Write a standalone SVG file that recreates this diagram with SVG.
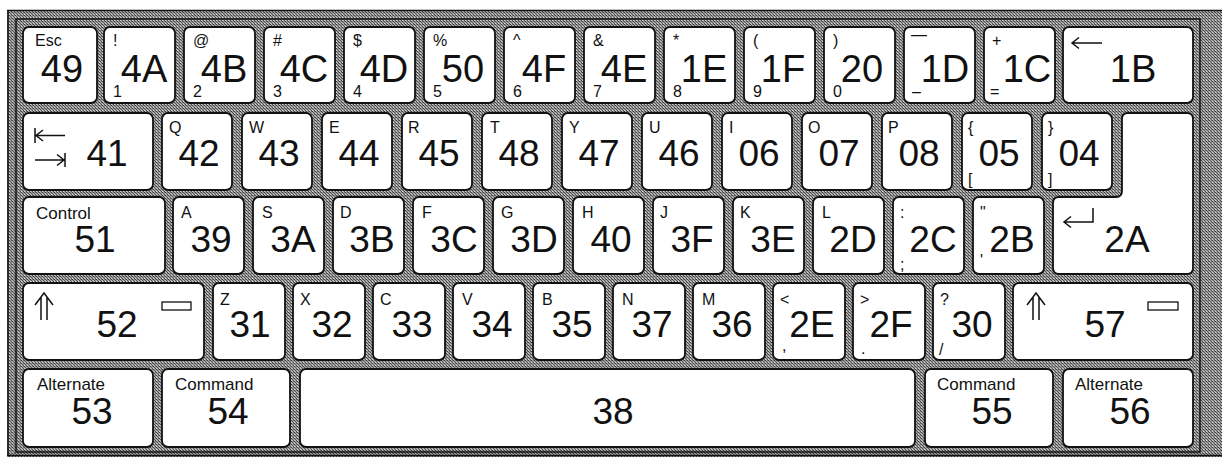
<svg xmlns="http://www.w3.org/2000/svg" width="1222" height="457" viewBox="0 0 1222 457">
<defs>
<pattern id="g" width="3" height="3" patternUnits="userSpaceOnUse">
<rect width="3" height="3" fill="#a6a6a6"/>
<rect x="0" y="0" width="1" height="1" fill="#3a3a3a"/>
<rect x="1" y="1" width="1" height="1" fill="#555"/>
<rect x="2" y="2" width="1" height="1" fill="#4a4a4a"/>
<rect x="2" y="0" width="1" height="1" fill="#7a7a7a"/>
<rect x="0" y="2" width="1" height="1" fill="#d0d0d0"/>
</pattern>
<style>
.k{fill:#fff;stroke:#111;stroke-width:1.8}
.ln{fill:none;stroke:#111;stroke-width:1.5}
text{font-family:"Liberation Sans",Arial,sans-serif;fill:#111}
.b{font-size:37px;text-anchor:middle}
.b1{font-size:38px;text-anchor:middle}
.s{font-size:16px}
.m{font-size:17px}
</style>
</defs>
<g id="frame">
<rect x="7" y="10" width="1215" height="447" fill="url(#g)"/>
<path d="M7,10.5 H1222 M8,10 V456 M7,455.5 H1222" class="ln" stroke-width="2"/>
<rect x="16" y="19" width="1184" height="433" class="ln"/>
</g>
<g id="connectors"></g>
<g id="row1">
<g id="k49"><rect class="k" x="23" y="27" width="74" height="76" rx="6"/><text class="s" x="35" y="46">Esc</text><text class="b1" x="62" y="82">49</text></g>
<g id="k4A"><rect class="k" x="104" y="27" width="71" height="76" rx="6"/><text class="s" x="113" y="46">!</text><text class="s" x="113" y="97">1</text><text class="b1" x="144" y="82">4A</text></g>
<g id="k4B"><rect class="k" x="184" y="27" width="71" height="76" rx="6"/><text class="s" x="193" y="46">@</text><text class="s" x="193" y="97">2</text><text class="b1" x="224" y="82">4B</text></g>
<g id="k4C"><rect class="k" x="264" y="27" width="71" height="76" rx="6"/><text class="s" x="273" y="46">#</text><text class="s" x="273" y="97">3</text><text class="b1" x="304" y="82">4C</text></g>
<g id="k4D"><rect class="k" x="344" y="27" width="71" height="76" rx="6"/><text class="s" x="353" y="46">$</text><text class="s" x="353" y="97">4</text><text class="b1" x="384" y="82">4D</text></g>
<g id="k50"><rect class="k" x="424" y="27" width="71" height="76" rx="6"/><text class="s" x="433" y="46">%</text><text class="s" x="433" y="97">5</text><text class="b1" x="463" y="82">50</text></g>
<g id="k4F"><rect class="k" x="504" y="27" width="71" height="76" rx="6"/><text class="s" x="513" y="46">^</text><text class="s" x="513" y="97">6</text><text class="b1" x="544" y="82">4F</text></g>
<g id="k4E"><rect class="k" x="584" y="27" width="71" height="76" rx="6"/><text class="s" x="593" y="46">&amp;</text><text class="s" x="593" y="97">7</text><text class="b1" x="624" y="82">4E</text></g>
<g id="k1E"><rect class="k" x="664" y="27" width="71" height="76" rx="6"/><text class="s" x="673" y="46">*</text><text class="s" x="673" y="97">8</text><text class="b1" x="704" y="82">1E</text></g>
<g id="k1F"><rect class="k" x="744" y="27" width="71" height="76" rx="6"/><text class="s" x="753" y="46">(</text><text class="s" x="753" y="97">9</text><text class="b1" x="783" y="82">1F</text></g>
<g id="k20"><rect class="k" x="824" y="27" width="71" height="76" rx="6"/><text class="s" x="833" y="46">)</text><text class="s" x="833" y="97">0</text><text class="b1" x="862" y="82">20</text></g>
<g id="k1D"><rect class="k" x="904" y="27" width="71" height="76" rx="6"/><text class="s" x="911" y="40">—</text><text class="s" x="912" y="97">–</text><text class="b1" x="945" y="82">1D</text></g>
<g id="k1C"><rect class="k" x="984" y="27" width="71" height="76" rx="6"/><text class="s" x="992" y="46">+</text><text class="s" x="990" y="97">=</text><text class="b1" x="1027" y="82">1C</text></g>
<g id="k1B"><rect class="k" x="1063" y="27" width="130" height="76" rx="6"/><path class="ln" d="M1072,43 H1102 M1079,37.5 L1072,43 L1079,48.5"/><text class="b1" x="1133" y="82">1B</text></g>
</g>
<g id="row2">
<g id="k41"><rect class="k" x="23" y="113" width="130" height="77" rx="6"/><path class="ln" d="M35,128 V143 M36,135.5 H65 M43,130 L36,135.5 L43,141 M35,160 H64 M57,154.5 L64,160 L57,165.5 M65,153 V167"/><text class="b" x="107" y="166">41</text></g>
<g id="k42"><rect class="k" x="162" y="113" width="70" height="77" rx="6"/><text class="s" x="169" y="133">Q</text><text class="b" x="199" y="166">42</text></g>
<g id="k43"><rect class="k" x="242" y="113" width="70" height="77" rx="6"/><text class="s" x="249" y="133">W</text><text class="b" x="279" y="166">43</text></g>
<g id="k44"><rect class="k" x="322" y="113" width="70" height="77" rx="6"/><text class="s" x="329" y="133">E</text><text class="b" x="359" y="166">44</text></g>
<g id="k45"><rect class="k" x="402" y="113" width="70" height="77" rx="6"/><text class="s" x="408" y="133">R</text><text class="b" x="439" y="166">45</text></g>
<g id="k48"><rect class="k" x="482" y="113" width="70" height="77" rx="6"/><text class="s" x="490" y="133">T</text><text class="b" x="519" y="166">48</text></g>
<g id="k47"><rect class="k" x="562" y="113" width="70" height="77" rx="6"/><text class="s" x="569" y="133">Y</text><text class="b" x="599" y="166">47</text></g>
<g id="k46"><rect class="k" x="642" y="113" width="70" height="77" rx="6"/><text class="s" x="649" y="133">U</text><text class="b" x="679" y="166">46</text></g>
<g id="k06"><rect class="k" x="722" y="113" width="70" height="77" rx="6"/><text class="s" x="729" y="133">I</text><text class="b" x="759" y="166">06</text></g>
<g id="k07"><rect class="k" x="802" y="113" width="70" height="77" rx="6"/><text class="s" x="808" y="133">O</text><text class="b" x="839" y="166">07</text></g>
<g id="k08"><rect class="k" x="882" y="113" width="70" height="77" rx="6"/><text class="s" x="888" y="133">P</text><text class="b" x="919" y="166">08</text></g>
<g id="k05"><rect class="k" x="962" y="113" width="70" height="77" rx="6"/><text class="s" x="968" y="133">{</text><text class="s" x="968" y="185">[</text><text class="b" x="999" y="166">05</text></g>
<g id="k04"><rect class="k" x="1042" y="113" width="70" height="77" rx="6"/><text class="s" x="1048" y="133">}</text><text class="s" x="1048" y="185">]</text><text class="b" x="1079" y="166">04</text></g>
</g>
<g id="row3">
<g id="k51"><rect class="k" x="23" y="197" width="142" height="77" rx="6"/><text class="m" x="36" y="219">Control</text><text class="b" x="95" y="252">51</text></g>
<g id="k39"><rect class="k" x="173" y="197" width="71" height="77" rx="6"/><text class="s" x="181" y="218">A</text><text class="b" x="211" y="252">39</text></g>
<g id="k3A"><rect class="k" x="253" y="197" width="71" height="77" rx="6"/><text class="s" x="262" y="218">S</text><text class="b" x="293" y="252">3A</text></g>
<g id="k3B"><rect class="k" x="333" y="197" width="71" height="77" rx="6"/><text class="s" x="340" y="218">D</text><text class="b" x="372" y="252">3B</text></g>
<g id="k3C"><rect class="k" x="413" y="197" width="71" height="77" rx="6"/><text class="s" x="422" y="218">F</text><text class="b" x="454" y="252">3C</text></g>
<g id="k3D"><rect class="k" x="493" y="197" width="71" height="77" rx="6"/><text class="s" x="501" y="218">G</text><text class="b" x="534" y="252">3D</text></g>
<g id="k40"><rect class="k" x="573" y="197" width="71" height="77" rx="6"/><text class="s" x="582" y="218">H</text><text class="b" x="611" y="252">40</text></g>
<g id="k3F"><rect class="k" x="653" y="197" width="71" height="77" rx="6"/><text class="s" x="660" y="218">J</text><text class="b" x="692" y="252">3F</text></g>
<g id="k3E"><rect class="k" x="733" y="197" width="71" height="77" rx="6"/><text class="s" x="740" y="218">K</text><text class="b" x="773" y="252">3E</text></g>
<g id="k2D"><rect class="k" x="813" y="197" width="71" height="77" rx="6"/><text class="s" x="822" y="218">L</text><text class="b" x="853" y="252">2D</text></g>
<g id="k2C"><rect class="k" x="893" y="197" width="71" height="77" rx="6"/><text class="s" x="900" y="218">:</text><text class="s" x="900" y="270">;</text><text class="b" x="933" y="252">2C</text></g>
<g id="k2B"><rect class="k" x="973" y="197" width="71" height="77" rx="6"/><text class="s" x="980" y="218">"</text><text class="s" x="980" y="266">'</text><text class="b" x="1012" y="252">2B</text></g>
<g id="k2A"><path class="k" d="M1128,113 H1187 Q1193,113 1193,119 V268 Q1193,274 1187,274 H1059 Q1053,274 1053,268 V203 Q1053,197 1059,197 H1116 Q1122,197 1122,191 V119 Q1122,113 1128,113 Z"/><path class="ln" d="M1093,208 V222 H1064 M1071,216.5 L1064,222 L1071,227.5"/><text class="b" x="1127" y="252">2A</text></g>
</g>
<g id="row4">
<g id="k52"><rect class="k" x="23" y="283" width="181" height="77" rx="6"/><path class="ln" d="M35,305 L44,293 L53,305 M41,297 V320 M47,297 V320"/><rect x="162" y="302" width="29" height="8" fill="#fff" stroke="#111" stroke-width="1.3"/><text class="b" x="117" y="337">52</text></g>
<g id="k31"><rect class="k" x="213" y="283" width="72" height="77" rx="6"/><text class="s" x="220" y="305">Z</text><text class="b" x="250" y="337">31</text></g>
<g id="k32"><rect class="k" x="293" y="283" width="72" height="77" rx="6"/><text class="s" x="300" y="305">X</text><text class="b" x="332" y="337">32</text></g>
<g id="k33"><rect class="k" x="373" y="283" width="72" height="77" rx="6"/><text class="s" x="380" y="305">C</text><text class="b" x="412" y="337">33</text></g>
<g id="k34"><rect class="k" x="453" y="283" width="72" height="77" rx="6"/><text class="s" x="462" y="305">V</text><text class="b" x="492" y="337">34</text></g>
<g id="k35"><rect class="k" x="533" y="283" width="72" height="77" rx="6"/><text class="s" x="542" y="305">B</text><text class="b" x="572" y="337">35</text></g>
<g id="k37"><rect class="k" x="613" y="283" width="72" height="77" rx="6"/><text class="s" x="622" y="305">N</text><text class="b" x="652" y="337">37</text></g>
<g id="k36"><rect class="k" x="693" y="283" width="72" height="77" rx="6"/><text class="s" x="702" y="305">M</text><text class="b" x="732" y="337">36</text></g>
<g id="k2E"><rect class="k" x="773" y="283" width="72" height="77" rx="6"/><text class="s" x="780" y="305">&lt;</text><text class="s" x="782" y="351">,</text><text class="b" x="812" y="337">2E</text></g>
<g id="k2F"><rect class="k" x="853" y="283" width="72" height="77" rx="6"/><text class="s" x="860" y="305">&gt;</text><text class="s" x="861" y="354">.</text><text class="b" x="891" y="337">2F</text></g>
<g id="k30"><rect class="k" x="933" y="283" width="72" height="77" rx="6"/><text class="s" x="940" y="305">?</text><text class="s" x="939" y="355">/</text><text class="b" x="972" y="337">30</text></g>
<g id="k57"><rect class="k" x="1013" y="283" width="180" height="77" rx="6"/><path class="ln" d="M1027,305 L1036,293 L1045,305 M1033,297 V320 M1039,297 V320"/><rect x="1148" y="302" width="30" height="8" fill="#fff" stroke="#111" stroke-width="1.3"/><text class="b" x="1105" y="337">57</text></g>
</g>
<g id="row5">
<g id="k53"><rect class="k" x="23" y="369" width="130" height="78" rx="6"/><text class="m" x="37" y="390">Alternate</text><text class="b" x="92" y="424">53</text></g>
<g id="k54"><rect class="k" x="162" y="369" width="128" height="78" rx="6"/><text class="m" x="175" y="390">Command</text><text class="b" x="228" y="424">54</text></g>
<g id="k38"><rect class="k" x="300" y="369" width="615" height="78" rx="6"/><text class="b" x="613" y="424">38</text></g>
<g id="k55"><rect class="k" x="925" y="369" width="128" height="78" rx="6"/><text class="m" x="937" y="390">Command</text><text class="b" x="992" y="424">55</text></g>
<g id="k56"><rect class="k" x="1063" y="369" width="130" height="78" rx="6"/><text class="m" x="1075" y="390">Alternate</text><text class="b" x="1130" y="424">56</text></g>
</g>
</svg>
